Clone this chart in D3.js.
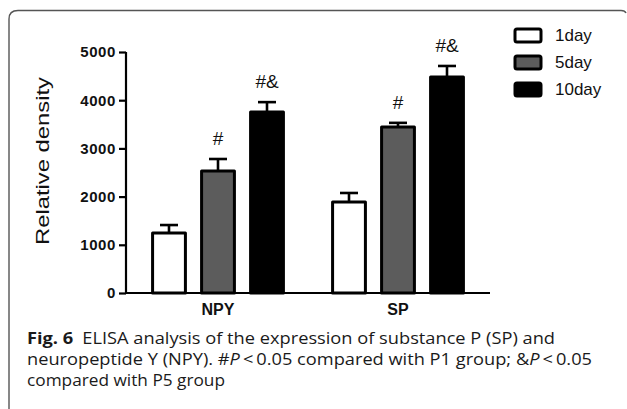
<!DOCTYPE html>
<html>
<head>
<meta charset="utf-8">
<script src="https://cdn.jsdelivr.net/npm/d3@7"></script>
<style>
  body { margin: 0; background: #fff; }
  svg { display: block; }
</style>
</head>
<body>
<svg id="chart" width="627" height="409"></svg>
<script>
// chart values
var groups = ["NPY", "SP"];
var series = ["1day", "5day", "10day"];
var means = [
  [1245, 2530, 3755],   // NPY
  [1890, 3445, 4480]    // SP
];
var errs = [
  [165, 250, 205],
  [185, 85, 230]
];
var marks = [
  ["", "#", "#&"],
  ["", "#", "#&"]
];
var yTicks = [0, 1000, 2000, 3000, 4000, 5000];
var fills = ["#ffffff", "#5c5c5c", "#000000"];

var svg = d3.select("#chart");

// rounded frame, open at right/bottom
svg.append("path")
  .attr("d", "M9,409 L9,19 Q9,10.5 18,10.5 L621,10.5 Q625,10.5 626,13")
  .attr("fill", "none")
  .attr("stroke", "#555")
  .attr("stroke-width", 1.4);

var y = d3.scaleLinear().domain([0, 5000]).range([293, 52]);
var x0 = d3.scaleBand().domain(groups).range([128, 488]);
var x1 = d3.scaleBand().domain(series).range([16.5, 163.5])
  .paddingInner(0.33).paddingOuter(0.165);

// bars
groups.forEach(function(g, gi) {
  var gg = svg.append("g").attr("transform", "translate(" + x0(g) + ",0)");
  series.forEach(function(s, si) {
    var v = means[gi][si], e = errs[gi][si];
    var cx = x1(s) + x1.bandwidth() / 2;
    // error bar (upper only)
    gg.append("line")
      .attr("x1", cx).attr("x2", cx)
      .attr("y1", y(v)).attr("y2", y(v + e))
      .attr("stroke", "#000").attr("stroke-width", 2.6);
    gg.append("line")
      .attr("x1", cx - 9).attr("x2", cx + 9)
      .attr("y1", y(v + e)).attr("y2", y(v + e))
      .attr("stroke", "#000").attr("stroke-width", 2.6);
    gg.append("rect")
      .attr("x", x1(s))
      .attr("y", y(v))
      .attr("width", x1.bandwidth())
      .attr("height", y(0) - y(v))
      .attr("fill", fills[si])
      .attr("stroke", "#000")
      .attr("stroke-width", 3)
      .attr("stroke-linejoin", "round");
    if (marks[gi][si]) {
      gg.append("text")
        .attr("x", cx)
        .attr("y", y(v + e) - 14)
        .attr("text-anchor", "middle")
        .attr("font-family", "Liberation Sans, Arial, sans-serif")
        .attr("font-size", 19)
        .attr("fill", "#111")
        .text(marks[gi][si]);
    }
  });
});

// y axis
var yAxis = svg.append("g")
  .attr("transform", "translate(126,0)")
  .call(d3.axisLeft(y).tickValues(yTicks).tickSize(7).tickPadding(3).tickFormat(d3.format("d")));
yAxis.select(".domain").attr("stroke", "#000").attr("stroke-width", 2.2).attr("d", "M0,52V293");
yAxis.selectAll(".tick line").attr("stroke", "#000").attr("stroke-width", 2.2);
yAxis.selectAll(".tick text")
  .attr("font-family", "Liberation Sans, Arial, sans-serif")
  .attr("font-weight", "bold")
  .attr("font-size", 15)
  .attr("letter-spacing", 0.6)
  .attr("fill", "#111");

// x axis
var xAxis = svg.append("g")
  .attr("transform", "translate(0,293)")
  .call(d3.axisBottom(x0).tickSize(0).tickPadding(11));
xAxis.select(".domain").attr("stroke", "#000").attr("stroke-width", 2.2).attr("d", "M125,0H490");
xAxis.selectAll(".tick text")
  .attr("font-family", "Liberation Sans, Arial, sans-serif")
  .attr("font-weight", "bold")
  .attr("font-size", 16)
  .attr("fill", "#111");

// y title
svg.append("text")
  .attr("transform", "translate(49,161) rotate(-90)")
  .attr("text-anchor", "middle")
  .attr("font-family", "Liberation Sans, Arial, sans-serif")
  .attr("font-size", 19)
  .attr("textLength", 168)
  .attr("lengthAdjust", "spacingAndGlyphs")
  .attr("fill", "#111")
  .text("Relative density");

// legend
var leg = svg.append("g").attr("transform", "translate(514,28)");
series.forEach(function(s, i) {
  var r = leg.append("g").attr("transform", "translate(0," + (i * 27) + ")");
  r.append("rect")
    .attr("x", 1).attr("y", 1)
    .attr("width", 26).attr("height", 13)
    .attr("rx", 2)
    .attr("fill", fills[i])
    .attr("stroke", "#000")
    .attr("stroke-width", 3);
  r.append("text")
    .attr("x", 41).attr("y", 13)
    .attr("font-family", "Liberation Sans, Arial, sans-serif")
    .attr("font-size", 17)
    .attr("fill", "#111")
    .text(s);
});

// caption
var cap = svg.append("g")
  .attr("font-family", "Open Sans, sans-serif")
  .attr("font-size", 15.5)
  .attr("fill", "#1a1a1a");
var l1 = cap.append("text").attr("x", 27).attr("y", 344)
  .attr("textLength", 528).attr("lengthAdjust", "spacingAndGlyphs");
l1.append("tspan").attr("font-weight", "bold").text("Fig. 6");
l1.append("tspan").text("\u2002ELISA analysis of the expression of substance P (SP) and");
var l2 = cap.append("text").attr("x", 27).attr("y", 365)
  .attr("textLength", 565).attr("lengthAdjust", "spacingAndGlyphs");
l2.append("tspan").text("neuropeptide Y (NPY). #");
l2.append("tspan").attr("font-style", "italic").text("P");
l2.append("tspan").text("\u2009<\u20090.05 compared with P1 group; &");
l2.append("tspan").attr("font-style", "italic").text("P");
l2.append("tspan").text("\u2009<\u20090.05");
cap.append("text").attr("x", 27).attr("y", 386)
  .attr("textLength", 198).attr("lengthAdjust", "spacingAndGlyphs")
  .text("compared with P5 group");
</script>
</body>
</html>
